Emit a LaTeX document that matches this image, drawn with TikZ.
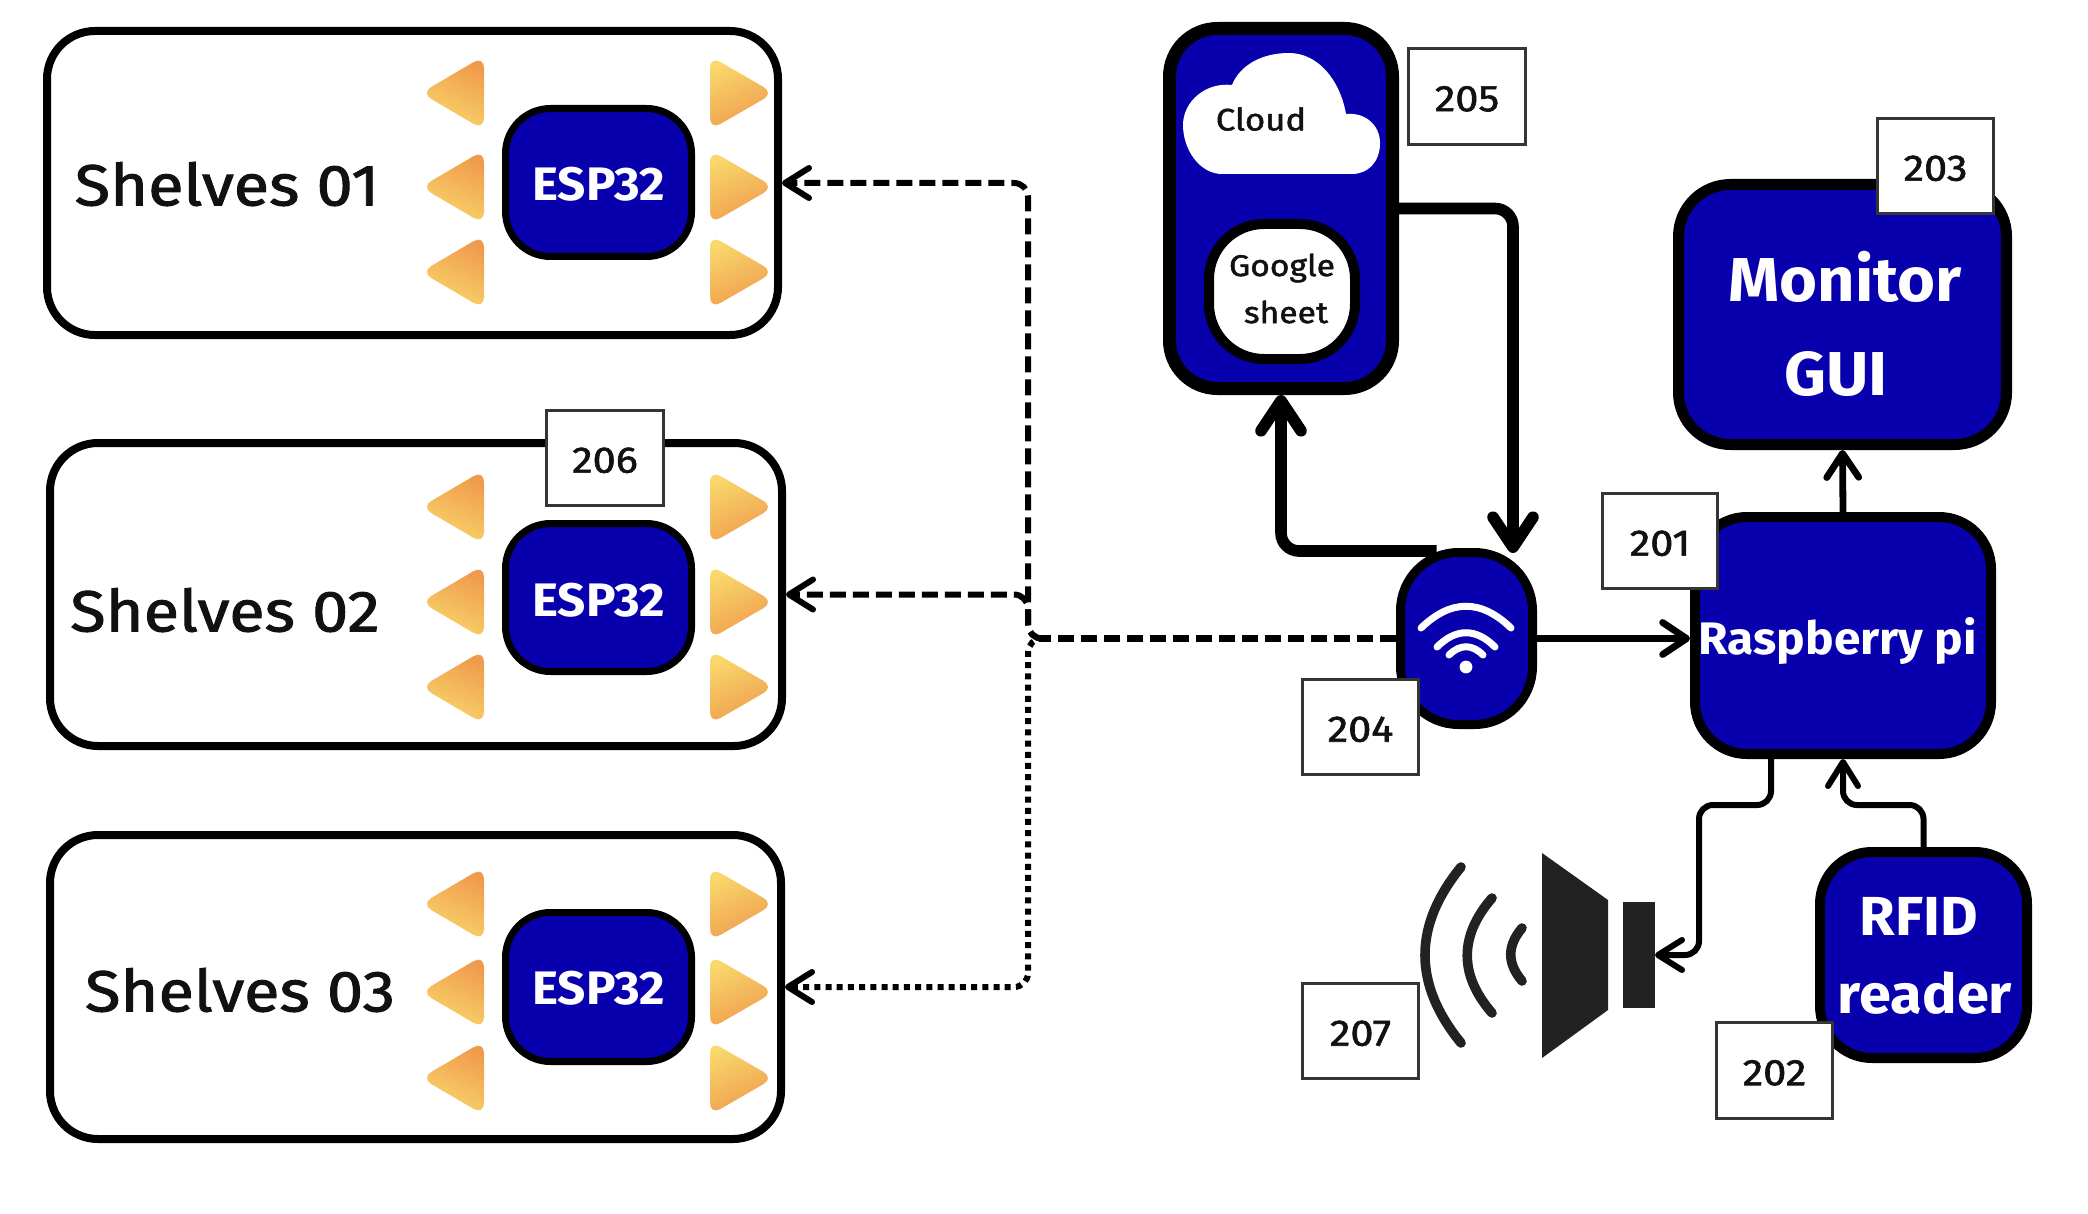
\documentclass[tikz,border=0pt]{standalone}
\usepackage{fontspec}
\setmainfont{Fira Sans}
\newfontfamily\whitef{Fira Sans}[FakeStretch=1.05]
\newfontfamily\medf{Fira Sans}[FakeStretch=1.12,BoldFont={*},BoldFeatures={FakeBold=1.6}]
\usetikzlibrary{arrows.meta,calc}
\definecolor{chipblue}{HTML}{0800AD}
\definecolor{tinta}{HTML}{EF9A4C}
\definecolor{tintb}{HTML}{F9D86C}
\definecolor{ink}{HTML}{111111}
\definecolor{spk}{HTML}{222222}
\tikzset{
  thintip/.style={-{Straight Barb[length=12pt,width=15pt,round]}},
  midtip/.style={-{Straight Barb[length=12pt,width=16pt,round]}},
  bigtip/.style={-{Straight Barb[length=15pt,width=20pt,round]}},
  thinconn/.style={line width=3pt,rounded corners=7pt,thintip},
  midconn/.style={line width=3.4pt,rounded corners=7pt,midtip},
  bigconn/.style={line width=5.8pt,rounded corners=9pt,bigtip},
  dashconn/.style={line width=3pt,dash pattern=on 8pt off 3.5pt,rounded corners=7pt},
  dotconn/.style={line width=3pt,dash pattern=on 3pt off 2.6pt,rounded corners=7pt},
  refbox/.style={draw=ink!85,fill=white,line width=1.3pt,inner sep=0pt,text=ink,text height=14.7pt,text depth=0pt,font=\medf\bfseries\fontsize{18.5}{20}\selectfont},
  whitetext/.style={text=white,inner sep=0pt},
  blacktext/.style={text=ink,inner sep=0pt},
  sound/.style={draw=spk,line width=4.8pt,line cap=round},
  wave/.style={draw=white,line width=3.5pt,line cap=round},
}
\newcommand{\boxnode}[8]{%
  \pgfmathsetmacro\bw{(#4-#2-#6)/2}\pgfmathsetmacro\bh{(#5-#3-#6)/2}%
  \pgfmathsetmacro\bl{#6/2}\pgfmathsetmacro\br{#7/2}%
  \node[draw=black,fill=#8,line width=\bl pt,rounded corners=\br pt,minimum width=\bw pt,minimum height=\bh pt,inner sep=0pt] (#1) at ({(#2+#4)/2},{(#3+#5)/2}) {};}
\newcommand{\refnode}[6]{%
  \pgfmathsetmacro\bw{(#4-#2)/2-1.3}\pgfmathsetmacro\bh{(#5-#3)/2-1.3}%
  \node[refbox,minimum width=\bw pt,minimum height=\bh pt] (#1) at ({(#2+#4)/2},{(#3+#5)/2}) {#6};}
\newcommand{\triangles}[3]{%
  \foreach \cy in {#1,#2,#3}{%
    \path[rounded corners=6pt,top color=tinta,bottom color=tintb,shading angle=-25] (421,\cy) -- (484,\cy-37) -- (484,\cy+37) -- cycle;
    \path[rounded corners=6pt,top color=tintb,bottom color=tinta,shading angle=25] (774,\cy) -- (710,\cy-37) -- (710,\cy+37) -- cycle;
  }}
\begin{document}
\begin{tikzpicture}[x=0.5pt,y=-0.5pt]
\useasboundingbox[fill=white] (0,0) rectangle (2088,1214);
% shelves
\boxnode{shelfa}{43}{27}{782}{339}{8}{48}{white}
\boxnode{shelfb}{46}{439}{786}{750}{8}{48}{white}
\boxnode{shelfc}{46}{831}{785}{1143}{8}{48}{white}
\triangles{93}{187}{272}
\triangles{507}{602}{687}
\triangles{904}{992}{1078}
\boxnode{espa}{502}{105}{695}{260}{7}{45}{chipblue}
\boxnode{espb}{502}{520}{695}{675}{7}{45}{chipblue}
\boxnode{espc}{502}{909}{695}{1065}{7}{45}{chipblue}
\node[whitetext,font=\whitef\bfseries\fontsize{23.5}{26}\selectfont] (espat) at (599,184) {ESP32};
\node[whitetext,font=\whitef\bfseries\fontsize{23.5}{26}\selectfont] (espbt) at (599,600) {ESP32};
\node[whitetext,font=\whitef\bfseries\fontsize{23.5}{26}\selectfont] (espct) at (599,988) {ESP32};
\node[blacktext,font=\medf\bfseries\fontsize{29}{32}\selectfont] (shelfat) at (227,184) {Shelves 01};
\node[blacktext,font=\medf\bfseries\fontsize{29}{32}\selectfont] (shelfbt) at (225,610) {Shelves 02};
\node[blacktext,font=\medf\bfseries\fontsize{29}{32}\selectfont] (shelfct) at (240,990) {Shelves 03};
% cloud box
\boxnode{cloudbox}{1163}{22}{1399}{395}{13}{48}{chipblue}
\path[fill=white] (1222,174) .. controls (1200,174) and (1183,150) .. (1183,125)
  .. controls (1183,102) and (1205,82) .. (1232,85)
  .. controls (1240,65) and (1262,53) .. (1289,53)
  .. controls (1318,53) and (1340,80) .. (1346,114)
  .. controls (1365,112) and (1380,125) .. (1380,143)
  .. controls (1380,162) and (1368,174) .. (1352,174) -- cycle;
\node[blacktext,font=\medf\bfseries\fontsize{15.5}{18}\selectfont] (cloudt) at (1261,119) {Cloud};
\boxnode{sheet}{1204}{219}{1360}{364}{10}{55}{white}
\node[blacktext,font=\medf\bfseries\fontsize{15}{18}\selectfont] (sheeta) at (1282,268) {Google};
\node[blacktext,font=\medf\bfseries\fontsize{15}{18}\selectfont] (sheetb) at (1286,312) {sheet};
% boxes on the right
\boxnode{monitor}{1673}{179}{2012}{450}{11}{52}{chipblue}
\node[whitetext,font=\whitef\bfseries\fontsize{31}{36}\selectfont] (monitora) at (1845,277) {Monitor};
\node[whitetext,font=\whitef\bfseries\fontsize{31}{36}\selectfont] (monitorb) at (1836,374) {GUI};
\boxnode{rasp}{1690}{512}{1996}{759}{10}{52}{chipblue}
\node[whitetext,font=\whitef\bfseries\fontsize{22.8}{26}\selectfont] (raspt) at (1838,641) {Raspberry pi};
\boxnode{wifi}{1396}{548}{1537}{729}{9}{58}{chipblue}
\coordinate (wifia) at (1421,628);\coordinate (wifib) at (1511,628);
\draw[wave] (wifia) .. controls (1451,599) and (1481,599) .. (wifib);
\coordinate (wific) at (1437,647);\coordinate (wifid) at (1495,647);
\draw[wave] (wific) .. controls (1456,628) and (1476,628) .. (wifid);
\coordinate (wifie) at (1449,655);\coordinate (wifif) at (1483,655);
\draw[wave] (wifie) .. controls (1460,644) and (1472,644) .. (wifif);
\fill[white] (1466,667) circle (3.2pt);
\boxnode{rfid}{1815}{847}{2032}{1063}{10}{52}{chipblue}
\node[whitetext,font=\whitef\bfseries\fontsize{27.5}{32}\selectfont] (rfida) at (1919,916) {RFID};
\node[whitetext,font=\whitef\bfseries\fontsize{27.5}{32}\selectfont] (rfidb) at (1925,993) {reader};
% speaker
\fill[spk] (1542,853) -- (1608,900) -- (1608,1010) -- (1542,1058) -- cycle;
\node[fill=spk,minimum width=16pt,minimum height=53pt,inner sep=0pt,outer sep=0pt] (speaker) at (1639,955) {};
\coordinate (soa) at (1461,867);\coordinate (sob) at (1461,1043);
\draw[sound] (soa) .. controls (1413,926) and (1413,984) .. (sob);
\coordinate (sma) at (1492,898);\coordinate (smb) at (1492,1013);
\draw[sound] (sma) .. controls (1459,936) and (1459,975) .. (smb);
\coordinate (sia) at (1522,928);\coordinate (sib) at (1522,981);
\draw[sound] (sia) .. controls (1507,946) and (1507,963) .. (sib);
% connectors
\coordinate (trunk) at (1040,638.5);
\coordinate (tv) at (1028,638.5);
\draw[dashconn,line width=3.6pt] (wifi.west) -- (trunk);
\draw[dashconn,thintip] (trunk) -- (tv) |- (shelfa.east);
\draw[dashconn,thintip] (trunk) -- (tv) |- (shelfb.east);
\draw[dotconn,thintip] (trunk) -- (tv) |- (shelfc.east);
\draw[midconn] (wifi.east) -- (wifi.east -| rasp.west);
\draw[midconn] (rasp.north) -- (monitor.south);
\coordinate (bus) at (1699,805);
\coordinate (raspout) at ($(rasp.south)+(-72,0)$);
\draw[thinconn] (raspout) -- (raspout |- bus) -- (bus) -- (bus |- speaker.east) -- (speaker.east);
\draw[thinconn] (rfid.north) -- (rfid.north |- bus) -- (rasp.south |- bus) -- (rasp.south);
\coordinate (wifileft) at ($(wifi.north)+(-30,3)$);
\coordinate (wifiright) at (1513,553);
\draw[bigconn] (wifileft) -| (cloudbox.south);
\draw[bigconn] (cloudbox.east) -| (wifiright);
% reference boxes
\refnode{ra}{1601}{492}{1719}{590}{201}
\refnode{rb}{1715}{1021}{1834}{1120}{202}
\refnode{rc}{1876}{117}{1995}{215}{203}
\refnode{rd}{1301}{678}{1420}{776}{204}
\refnode{re}{1407}{47}{1527}{146}{205}
\refnode{rf}{545}{409}{665}{507}{206}
\refnode{rg}{1301}{982}{1420}{1080}{207}
\end{tikzpicture}
\end{document}
